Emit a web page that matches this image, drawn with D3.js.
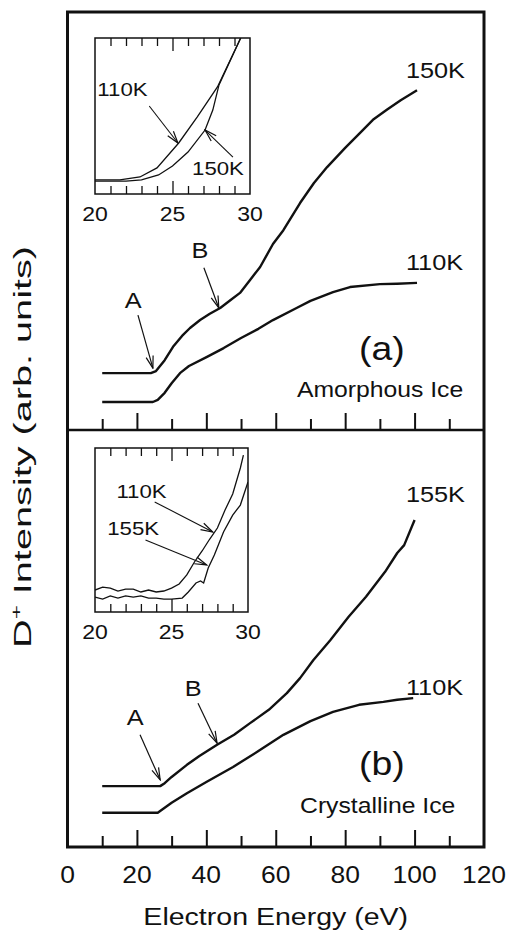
<!DOCTYPE html>
<html lang="en">
<head>
<meta charset="UTF-8">
<title>D+ ESD from ice</title>
<script src="https://d3js.org/d3.v7.min.js"></script>
<style>
  body { margin: 0; background: #fff; }
  text { font-family: "Liberation Sans", Arial, Helvetica, sans-serif; fill: #111; }
</style>
</head>
<body>
<div id="chart"></div>
<script>
// ---- data: [electron energy (eV), intensity (arb.)] ----
// panel (a) amorphous ice
const amorph150 = [[10,13.6],[24,13.6],[25.5,14.1],[28,16.7],[30.4,19.9],[33,22.5],[35.3,24.4],[38.2,26.3],
  [41,27.8],[44,29.2],[47,31.1],[49.7,32.8],[52.6,35.9],[55.5,39.0],[59.2,44.5],[62.2,47.8],[67,54.3],
  [71,59.1],[74.8,62.9],[80,67.5],[84.3,71.1],[88,74.2],[92,76.6],[96,78.9],[100.7,81.3]];
const amorph110 = [[10,6.7],[24.6,6.7],[26,7.2],[28,8.9],[30,11.2],[32.4,13.6],[35,15.3],[40.2,17.5],
  [45,19.6],[50,22.0],[55,24.2],[59.2,26.3],[66,29.2],[70,30.9],[76.5,33.0],[81.4,34.2],[90,34.9],
  [95,35.0],[100.7,35.2]];
// panel (b) crystalline ice
const cryst155 = [[10,14.6],[26.7,14.6],[28,15.3],[30,16.8],[34.4,19.7],[38,21.8],[43.1,24.5],[48,26.9],
  [52.6,29.7],[58,32.9],[63.2,36.9],[67,40.5],[70.8,44.8],[75.7,49.6],[81,55.2],[86,60.0],[91.5,66.0],
  [95,70.5],[97,72.4],[100,78.4]];
const cryst110 = [[10,8.2],[26,8.2],[28,9.4],[30,10.6],[34.4,12.9],[40,15.6],[47.7,19.2],[55,23.0],
  [62.2,26.9],[70,30.2],[76.5,32.4],[84,34.1],[91,34.8],[95,35.3],[99.6,35.7]];
// insets (20-30 eV)
const insetA110 = [[20,9.0],[21.6,9.0],[22.9,10.9],[24,16.7],[25.4,32.7],[26.6,49.4],[27.9,68.6],[29.4,100]];
const insetA150 = [[20,8.3],[22,8.3],[23,9.0],[24.1,12.2],[25,17.9],[26,26.9],[27.1,41.0],[27.6,53.8],[28,69.9],[29.4,100]];
const insetB110 = [[20,13.4],[20.5,15.2],[21,14.6],[21.5,12.8],[22,14.0],[22.5,14.0],[23,12.2],[23.5,13.4],
  [24,12.2],[24.5,12.8],[25,14.6],[25.5,17.1],[26,22.6],[26.5,30.5],[27,37.2],[27.5,44.5],[28,51.2],
  [28.5,62.2],[29,72.0],[29.5,87.8],[29.7,95.7]];
const insetB155 = [[20,9.1],[20.5,7.9],[21,9.8],[21.5,8.5],[22,9.8],[22.5,9.1],[23,9.8],[23.5,8.5],[24,8.5],
  [24.5,7.9],[25,7.9],[25.7,8.5],[26.1,12.2],[26.6,17.7],[26.9,18.9],[27.1,17.7],[27.4,26.8],[27.8,34.8],
  [28.4,48.8],[29,59.1],[29.5,65.2],[30,79.3]];

const mainTicks = [0, 20, 40, 60, 80, 100, 120];
const insetTicks = [20, 25, 30];

const W = 508, H = 932;
const svg = d3.select("#chart").append("svg")
    .attr("width", W).attr("height", H)
    .attr("viewBox", [0, 0, W, H]);

const defs = svg.append("defs");
defs.append("marker")
    .attr("id", "vhead")
    .attr("markerUnits", "userSpaceOnUse")
    .attr("viewBox", "-13 -7 14 14")
    .attr("markerWidth", 14).attr("markerHeight", 14)
    .attr("refX", 0).attr("refY", 0)
    .attr("orient", "auto")
  .append("path")
    .attr("d", "M-12,-3.6L0,0L-12,3.6")
    .attr("fill", "none").attr("stroke", "#111").attr("stroke-width", 1.2);

// horizontal stretch of text to mimic the scanned lettering
function stretch(sel, k) {
  sel.each(function() {
    const w = this.getComputedTextLength();
    d3.select(this).attr("textLength", w * k).attr("lengthAdjust", "spacingAndGlyphs");
  });
}

const x = d3.scaleLinear([0, 120], [67.5, 484]);
const ya = d3.scaleLinear([0, 100], [430, 12]);
const yb = d3.scaleLinear([0, 100], [847, 430]);

function panel(y, hi, lo, hiLab, loLab, tag, name, ann) {
  const g = svg.append("g");
  const line = d3.line().x(d => x(d[0])).y(d => y(d[1]));
  g.selectAll("path.trace").data([hi, lo]).join("path")
      .attr("class", "trace")
      .attr("d", line)
      .attr("fill", "none").attr("stroke", "#111")
      .attr("stroke-width", 2.4).attr("stroke-linejoin", "round");

  // inward ticks on the panel floor
  const minor = d3.range(10, 120, 20), major = d3.range(20, 120, 20);
  g.append("g").attr("transform", `translate(0,${y(0)})`)
      .call(d3.axisBottom(x).tickValues(major).tickSize(-17).tickFormat(""))
      .call(a => a.select(".domain").remove())
      .call(a => a.selectAll("line").attr("stroke", "#111").attr("stroke-width", 2));
  g.append("g").attr("transform", `translate(0,${y(0)})`)
      .call(d3.axisBottom(x).tickValues(minor).tickSize(-11).tickFormat(""))
      .call(a => a.select(".domain").remove())
      .call(a => a.selectAll("line").attr("stroke", "#111").attr("stroke-width", 2));

  g.append("text").attr("x", x(97.5)).attr("y", y(hiLab)).attr("font-size", 22).text(ann.hiName).call(stretch, 1.15);
  g.append("text").attr("x", x(97.5)).attr("y", y(loLab)).attr("font-size", 22).text("110K").call(stretch, 1.15);

  g.append("text").attr("x", x(90.6)).attr("y", y(tag[1])).attr("text-anchor", "middle")
      .attr("font-size", 34).text(tag[0]).call(stretch, 1.1);
  g.append("text").attr("x", x(name[1])).attr("y", y(name[2])).attr("font-size", 21.5)
      .text(name[0]).call(stretch, 1.15);

  ann.labels.forEach(a => {
    g.append("text").attr("x", x(a.lx)).attr("y", y(a.ly)).attr("text-anchor", "middle")
        .attr("font-size", 22).text(a.t).call(stretch, 1.15);
    g.append("line")
        .attr("x1", x(a.a[0])).attr("y1", y(a.a[1]))
        .attr("x2", x(a.a[2])).attr("y2", y(a.a[3]))
        .attr("stroke", "#111").attr("stroke-width", 1.2)
        .attr("marker-end", "url(#vhead)");
  });
  return g;
}

function inset(xr, yr, hi, lo, notes) {
  const xi = d3.scaleLinear([20, 30], xr);
  const yi = d3.scaleLinear([0, 100], yr);
  const g = svg.append("g");
  const clipId = "clip" + Math.round(yr[1]);
  g.append("clipPath").attr("id", clipId).append("rect")
      .attr("x", xr[0]).attr("y", yr[1]).attr("width", xr[1] - xr[0]).attr("height", yr[0] - yr[1]);
  const line = d3.line().x(d => xi(d[0])).y(d => yi(d[1]));
  g.append("g").attr("clip-path", `url(#${clipId})`)
    .selectAll("path").data([hi, lo]).join("path")
      .attr("d", line).attr("fill", "none").attr("stroke", "#111").attr("stroke-width", 1.3);

  const minor = d3.range(21, 30).filter(v => v !== 25);
  [[d3.axisBottom, yr[0]], [d3.axisTop, yr[1]]].forEach(([ax, py]) => {
    g.append("g").attr("transform", `translate(0,${py})`)
        .call(ax(xi).tickValues(minor).tickSize(-8).tickFormat(""))
        .call(a => a.select(".domain").remove())
        .call(a => a.selectAll("line").attr("stroke", "#111").attr("stroke-width", 1.3));
    g.append("g").attr("transform", `translate(0,${py})`)
        .call(ax(xi).tickValues([25]).tickSize(-13).tickFormat(""))
        .call(a => a.select(".domain").remove())
        .call(a => a.selectAll("line").attr("stroke", "#111").attr("stroke-width", 1.3));
  });
  g.append("rect").attr("x", xr[0]).attr("y", yr[1])
      .attr("width", xr[1] - xr[0]).attr("height", yr[0] - yr[1])
      .attr("fill", "none").attr("stroke", "#111").attr("stroke-width", 1.5);

  g.selectAll("text.tl").data(insetTicks).join("text")
      .attr("class", "tl")
      .attr("x", d => xi(d)).attr("y", yr[0] + 27)
      .attr("text-anchor", "middle").attr("font-size", 20).text(d => d)
      .call(stretch, 1.15);

  notes.forEach(n => {
    g.append("text").attr("x", xi(n.lx)).attr("y", yi(n.ly)).attr("font-size", 19).text(n.t).call(stretch, 1.17);
    g.append("line")
        .attr("x1", xi(n.a[0])).attr("y1", yi(n.a[1]))
        .attr("x2", xi(n.a[2])).attr("y2", yi(n.a[3]))
        .attr("stroke", "#111").attr("stroke-width", 1.1)
        .attr("marker-end", "url(#vhead)");
  });
}

panel(ya, amorph150, amorph110, 84.2, 38.3, ["(a)", 16.7], ["Amorphous Ice", 66.1, 7.9], {
  hiName: "150K",
  labels: [
    { t: "A", lx: 18.9, ly: 29.2, a: [20.3, 27.5, 24.6, 14.8] },
    { t: "B", lx: 38.2, ly: 41.1, a: [39.3, 38.8, 43.6, 29.2] }
  ]
});
panel(yb, cryst155, cryst110, 82.7, 36.5, ["(b)", 17.3], ["Crystalline Ice", 67, 8.2], {
  hiName: "155K",
  labels: [
    { t: "A", lx: 19.5, ly: 29.3, a: [20.9, 26.9, 26.7, 16.1] },
    { t: "B", lx: 36.2, ly: 36.2, a: [37.6, 34.5, 43.1, 24.9] }
  ]
});

inset([95, 250], [194, 38], insetA110, insetA150, [
  { t: "110K", lx: 20.15, ly: 62.8, a: [23.5, 56.4, 25.35, 32.7] },
  { t: "150K", lx: 26.26, ly: 12.2, a: [28.9, 23.7, 27.1, 41.0] }
]);
inset([95, 248], [612, 448], insetB110, insetB155, [
  { t: "110K", lx: 21.4, ly: 69.5, a: [23.9, 67.1, 27.7, 48.8] },
  { t: "155K", lx: 20.8, ly: 47, a: [23.3, 43.9, 27.3, 28.7] }
]);

// outer frame and divider
svg.append("rect")
    .attr("x", x(0)).attr("y", ya(100))
    .attr("width", x(120) - x(0)).attr("height", yb(0) - ya(100))
    .attr("fill", "none").attr("stroke", "#111").attr("stroke-width", 3);
svg.append("line")
    .attr("x1", x(0)).attr("x2", x(120)).attr("y1", ya(0)).attr("y2", ya(0))
    .attr("stroke", "#111").attr("stroke-width", 2.5);

// x tick labels and titles
svg.append("g").selectAll("text").data(mainTicks).join("text")
    .attr("x", d => x(d)).attr("y", 883)
    .attr("text-anchor", "middle").attr("font-size", 23).text(d => d)
    .call(stretch, 1.15);

svg.append("text")
    .attr("x", x(60)).attr("y", 925)
    .attr("text-anchor", "middle").attr("font-size", 23)
    .text("Electron Energy (eV)")
    .call(stretch, 1.24);

const ylab = svg.append("text")
    .attr("transform", "translate(31,447) rotate(-90)")
    .attr("text-anchor", "middle").attr("font-size", 23);
ylab.append("tspan").text("D");
ylab.append("tspan").attr("font-size", 14).attr("dy", -10).text("+");
ylab.append("tspan").attr("dy", 10).text(" Intensity (arb. units)");
ylab.attr("textLength", 402).attr("lengthAdjust", "spacingAndGlyphs");
</script>
</body>
</html>
